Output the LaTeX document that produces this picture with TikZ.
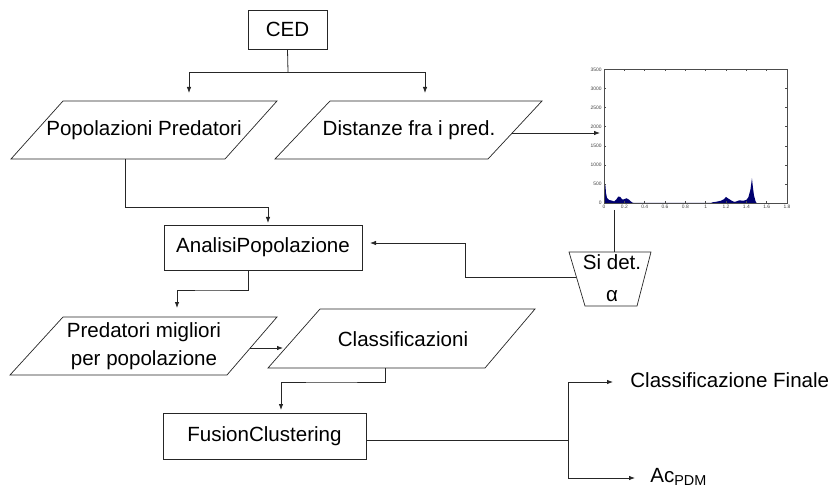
\documentclass[tikz,border=0pt]{standalone}
\usepackage{fontspec}
\setmainfont{Liberation Sans}
\usetikzlibrary{arrows.meta}
\begin{document}
\begin{tikzpicture}[x=0.02cm,y=-0.02cm,
  line width=0.45pt,
  every node/.style={font=\fontsize{11.7}{14}\selectfont, inner sep=0pt, align=center},
  box/.style={draw=black!85, line width=0.45pt, rectangle},
  para/.style={draw=black!85, line width=0.4pt},
  conn/.style={draw=black!85, line width=0.45pt},
  arr/.style={conn, -{Latex[length=1.2mm,width=0.9mm]}},
  tick/.style={font=\fontsize{2.8}{3}\selectfont, text=black!75},
  plotline/.style={line width=0.3pt, draw=black!70}]
\useasboundingbox (0,0) rectangle (831,496);

% ---- CED
\node[box, minimum width=1.58cm, minimum height=0.78cm] (ced) at (287.5,29.5) {CED};

% ---- parallelogram 1
\draw[para] (63,101) -- (277,101) -- (225,159) -- (11,159) -- cycle;
\node (pp) at (144,130) {Popolazioni Predatori};
\coordinate (ppin) at (189,93);
\coordinate (ppout) at (125,159);

% ---- parallelogram 2
\draw[para] (330,101) -- (542,101) -- (488,159) -- (275,159) -- cycle;
\node (dist) at (409,130) {Distanze fra i pred.};
\coordinate (distin) at (425,93);
\coordinate (distout) at (512,133);

% ---- CED branches
\coordinate (cedsplit) at (288,72);
\draw[conn] (ced.south) -- (cedsplit);
\draw[arr] (cedsplit) -| (ppin);
\draw[arr] (cedsplit) -| (distin);

% ---- histogram
\coordinate (plotin) at (600,133);
\coordinate (plotout) at (614,210);
\draw[arr] (distout) -- (plotin);
\begin{scope}[shift={(604,203)}, x=2.034cm, y=0.000766cm]
  \fill[fill={rgb,255:red,0;green,0;blue,110}]
    (0,0) -- (0,1300) -- (0.005,1300) -- (0.008,520) -- (0.015,430) -- (0.02,260)
    -- (0.03,130) -- (0.05,80) -- (0.08,60) -- (0.1,40) -- (0.12,90) -- (0.14,170)
    -- (0.16,160) -- (0.18,90) -- (0.2,100) -- (0.22,125) -- (0.24,100) -- (0.26,50)
    -- (0.28,10) -- (0.3,0) -- (1.05,0) -- (1.07,20) -- (1.1,30) -- (1.15,60)
    -- (1.18,100) -- (1.2,160) -- (1.22,120) -- (1.25,70) -- (1.28,30) -- (1.3,40)
    -- (1.33,70) -- (1.37,60) -- (1.4,80) -- (1.42,150) -- (1.44,350) -- (1.455,650)
    -- (1.465,400) -- (1.475,200) -- (1.49,50) -- (1.5,0) -- cycle;
  \draw[plotline] (0,0) rectangle (1.8,3500);
  \foreach \v in {0,0.2,0.4,0.6,0.8,1,1.2,1.4,1.6,1.8} {
    \draw[plotline] (\v,0) -- ++(0,50);
    \draw[plotline] (\v,3500) -- ++(0,-50);
    \node[tick, anchor=north] at ([yshift=-1.2pt]\v,0) {\v};
  }
  \foreach \v in {0,500,1000,1500,2000,2500,3000,3500} {
    \draw[plotline] (0,\v) -- ++(0.02,0);
    \draw[plotline] (1.8,\v) -- ++(-0.02,0);
    \node[tick, anchor=east] at ([xshift=-1.2pt]0,\v) {\v};
  }
\end{scope}

% ---- trapezoid Si det. alpha
\draw[para] (569,252) -- (651,252) -- (637,306) -- (585,306) -- cycle;
\node (sidet) at (612,278) {Si det.\\[4pt]α};
\coordinate (sidetin) at (614,252);
\coordinate (sidetout) at (576,277);
\draw[conn] (plotout) -- (sidetin);

% ---- AnalisiPopolazione
\node[box, minimum width=3.96cm, minimum height=0.9cm] (ana) at (263,247.5) {AnalisiPopolazione};
\coordinate (anain) at (268,223);
\coordinate (anaright) at (370,243);
\draw[arr] (ppout) |- (268,207) -- (anain);
\draw[arr] (sidetout) -- (465,277) |- (anaright);

% ---- Predatori migliori
\draw[para] (63,317) -- (277,317) -- (227,375) -- (10,375) -- cycle;
\node (pm) at (144,346) {Predatori migliori\\[2pt]per popolazione};
\coordinate (pmin) at (177,308);
\coordinate (pmout) at (250,348);
\draw[arr] (ana.south -| 248,0) |- (212,290) -| (pmin);

% ---- Classificazioni
\draw[para] (320,309) -- (535,309) -- (485,368) -- (268,368) -- cycle;
\node (cls) at (403,339) {Classificazioni};
\coordinate (clsin) at (283,348);
\coordinate (clsout) at (385,368);
\draw[arr] (pmout) -- (clsin);

% ---- FusionClustering
\node[box, minimum width=4.06cm, minimum height=0.92cm] (fus) at (264.5,436) {FusionClustering};
\coordinate (fusin) at (281,410);
\draw[arr] (clsout) |- (330,382) -| (fusin);

% ---- outputs
\coordinate (fsplit) at (568,440);
\node[anchor=base west] (cf) at (630,387) {Classificazione Finale};
\node[anchor=base west] (ac) at (650,482) {Ac$_{\mathrm{\fontsize{9}{10}\selectfont PDM}}$};
\coordinate (cfin) at (613,382);
\coordinate (acin) at (635,478);
\draw[conn] (fus.east |- fsplit) -- (fsplit);
\draw[arr] (fsplit) |- (cfin);
\draw[arr] (fsplit) |- (acin);
\end{tikzpicture}
\end{document}
